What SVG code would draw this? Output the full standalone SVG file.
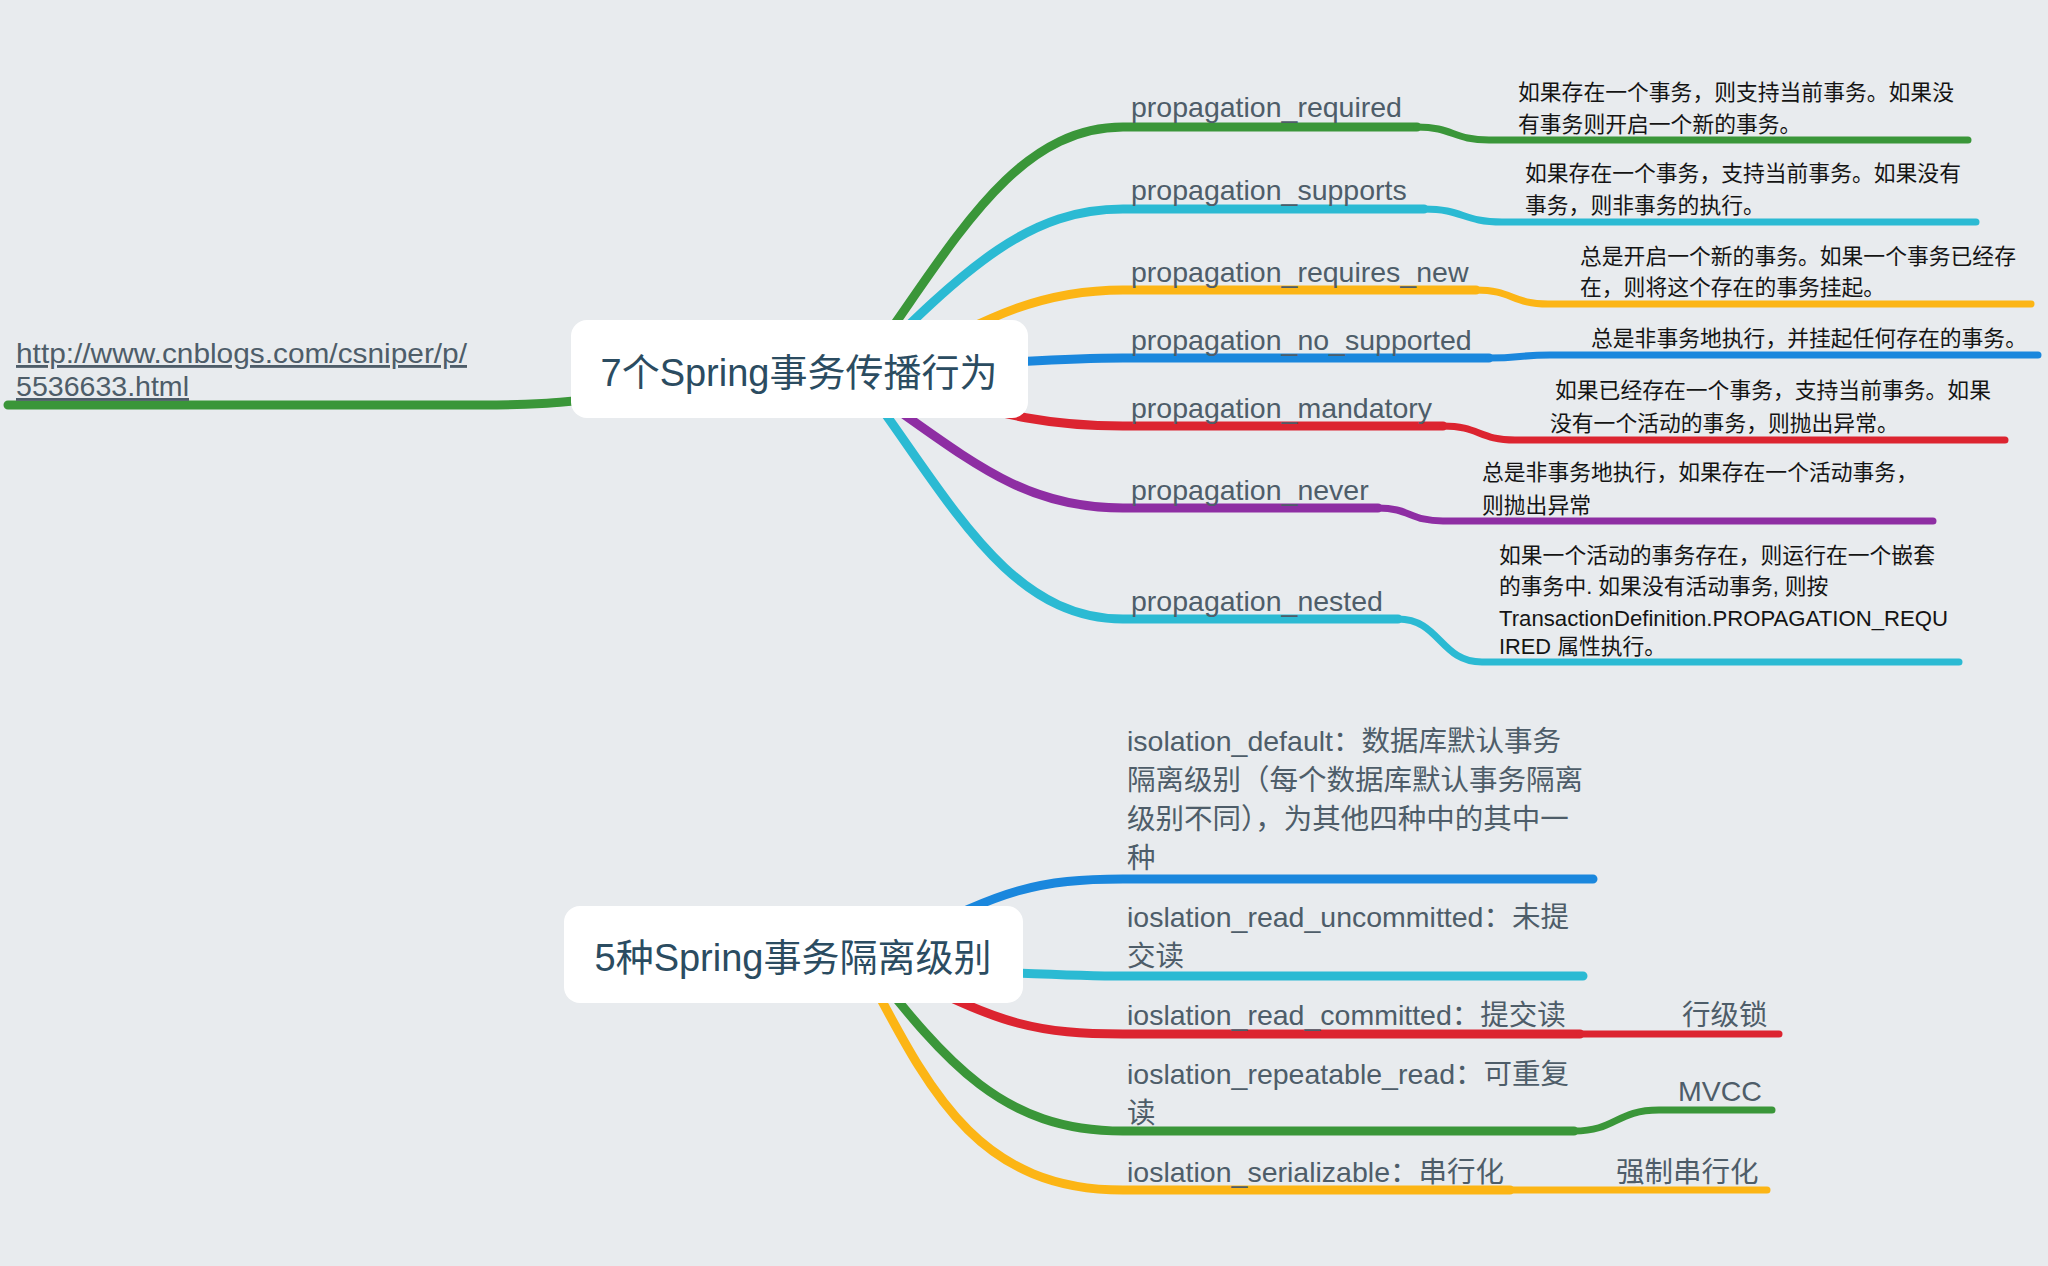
<svg xmlns="http://www.w3.org/2000/svg" width="2048" height="1266" viewBox="0 0 2048 1266">
<style>
.c{fill:none;stroke-linecap:round;stroke-linejoin:round}
.w1{stroke-width:9}
.w2{stroke-width:7}
.t{font-family:"Liberation Sans","Noto Sans CJK SC",sans-serif}
.lbl{font-size:28.5px;fill:#4e5d69}
.desc{font-size:21.8px;fill:#141414}
.topic{font-size:38px;fill:#2b4c61;text-anchor:middle}
.box{fill:#ffffff}
.green{stroke:#3a9639}
.cyan{stroke:#2bbad3}
.yellow{stroke:#fcb515}
.blue{stroke:#1a87dd}
.red{stroke:#dc2430}
.purple{stroke:#8e2ea3}
</style>
<rect x="0" y="0" width="2048" height="1266" fill="#e8ebee"/>
<g id="connectors">
  <path class="c w1 green" d="M680,392 C560,402 545,405 483,405 L8,405"/>
  <path class="c w1 green" d="M855,379 C945,261 1006,127 1123,127 L1417,127"/>
  <path class="c w2 green" d="M1417,127 C1453,127 1453,140 1489,140 L1968,140"/>
  <path class="c w1 cyan" d="M855,379 C970,261 1032,209 1123,209 L1424,209"/>
  <path class="c w2 cyan" d="M1424,209 C1463,209 1463,222 1502,222 L1976,222"/>
  <path class="c w1 yellow" d="M888,370 C993,313 1045,290 1123,290 L1476,290"/>
  <path class="c w2 yellow" d="M1476,290 C1512,290 1512,304 1548,304 L2031,304"/>
  <path class="c w1 blue" d="M940,366 C1032,362 1058,358 1123,358 L1489,358"/>
  <path class="c w2 blue" d="M1489,358 C1520,358 1520,355 1550,355 L2038,355"/>
  <path class="c w1 red" d="M888,385 C1006,415 1045,426 1123,426 L1443,426"/>
  <path class="c w2 red" d="M1443,426 C1479,426 1479,440 1515,440 L2005,440"/>
  <path class="c w1 purple" d="M862,385 C967,457 1019,508 1123,508 L1378,508"/>
  <path class="c w2 purple" d="M1378,508 C1410,508 1410,521 1443,521 L1933,521"/>
  <path class="c w1 cyan" d="M860,379 C948,496 1006,619 1123,619 L1398,619"/>
  <path class="c w2 cyan" d="M1398,619 C1440,619 1440,662 1482,662 L1959,662"/>

  <path class="c w1 blue" d="M905,940 C1000,890 1040,879 1123,879 L1593,879"/>
  <path class="c w1 cyan" d="M950,970 C1040,974 1080,976 1123,976 L1583,976"/>
  <path class="c w1 red" d="M905,975 C1000,1025 1040,1034 1123,1034 L1580,1034"/>
  <path class="c w2 red" d="M1580,1034 L1779,1034"/>
  <path class="c w1 green" d="M865,960 C945,1060 1000,1131 1123,1131 L1574,1131"/>
  <path class="c w2 green" d="M1574,1131 C1616,1131 1616,1110 1659,1110 L1772,1110"/>
  <path class="c w1 yellow" d="M860,960 C925,1080 970,1190 1123,1190 L1510,1190"/>
  <path class="c w2 yellow" d="M1510,1190 L1767,1190"/>
</g>
<g id="link">
  <text class="t lbl" x="16" y="363" text-decoration="underline" fill="#4a5866" textLength="451" lengthAdjust="spacingAndGlyphs">http://www.cnblogs.com/csniper/p/</text>
  <text class="t lbl" x="16" y="396" text-decoration="underline" fill="#4a5866" textLength="173" lengthAdjust="spacingAndGlyphs">5536633.html</text>
</g>
<g id="topic1">
  <rect class="box" x="571" y="320" width="457" height="98" rx="16"/>
  <text class="t topic" x="799" y="386">7个Spring事务传播行为</text>
</g>
<g id="topic2">
  <rect class="box" x="564" y="906" width="459" height="97" rx="16"/>
  <text class="t topic" x="793" y="971">5种Spring事务隔离级别</text>
</g>
<g id="p-required">
  <text class="t lbl" x="1131" y="117">propagation_required</text>
  <text class="t desc" x="1518" y="100">如果存在一个事务，则支持当前事务。如果没</text>
  <text class="t desc" x="1518" y="132">有事务则开启一个新的事务。</text>
</g>
<g id="p-supports">
  <text class="t lbl" x="1131" y="200">propagation_supports</text>
  <text class="t desc" x="1525" y="181">如果存在一个事务，支持当前事务。如果没有</text>
  <text class="t desc" x="1525" y="213">事务，则非事务的执行。</text>
</g>
<g id="p-requires-new">
  <text class="t lbl" x="1131" y="282">propagation_requires_new</text>
  <text class="t desc" x="1580" y="264">总是开启一个新的事务。如果一个事务已经存</text>
  <text class="t desc" x="1580" y="295">在，则将这个存在的事务挂起。</text>
</g>
<g id="p-no-supported">
  <text class="t lbl" x="1131" y="350">propagation_no_supported</text>
  <text class="t desc" x="1591" y="346">总是非事务地执行，并挂起任何存在的事务。</text>
</g>
<g id="p-mandatory">
  <text class="t lbl" x="1131" y="418">propagation_mandatory</text>
  <text class="t desc" x="1555" y="398">如果已经存在一个事务，支持当前事务。如果</text>
  <text class="t desc" x="1550" y="431">没有一个活动的事务，则抛出异常。</text>
</g>
<g id="p-never">
  <text class="t lbl" x="1131" y="500">propagation_never</text>
  <text class="t desc" x="1482" y="480">总是非事务地执行，如果存在一个活动事务，</text>
  <text class="t desc" x="1482" y="513">则抛出异常</text>
</g>
<g id="p-nested">
  <text class="t lbl" x="1131" y="611">propagation_nested</text>
  <text class="t desc" x="1499" y="563">如果一个活动的事务存在，则运行在一个嵌套</text>
  <text class="t desc" x="1499" y="594">的事务中. 如果没有活动事务, 则按</text>
  <text class="t desc" x="1499" y="626" textLength="449" lengthAdjust="spacingAndGlyphs">TransactionDefinition.PROPAGATION_REQU</text>
  <text class="t desc" x="1499" y="654">IRED 属性执行。</text>
</g>
<g id="i-default">
  <text class="t lbl" x="1127" y="751">isolation_default：数据库默认事务</text>
  <text class="t lbl" x="1127" y="790">隔离级别（每个数据库默认事务隔离</text>
  <text class="t lbl" x="1127" y="829">级别不同），为其他四种中的其中一</text>
  <text class="t lbl" x="1127" y="868">种</text>
</g>
<g id="i-uncommitted">
  <text class="t lbl" x="1127" y="927">ioslation_read_uncommitted：未提</text>
  <text class="t lbl" x="1127" y="966">交读</text>
</g>
<g id="i-committed">
  <text class="t lbl" x="1127" y="1025">ioslation_read_committed：提交读</text>
  <text class="t lbl" x="1682" y="1025">行级锁</text>
</g>
<g id="i-repeatable">
  <text class="t lbl" x="1127" y="1084">ioslation_repeatable_read：可重复</text>
  <text class="t lbl" x="1127" y="1123">读</text>
  <text class="t lbl" x="1678" y="1101">MVCC</text>
</g>
<g id="i-serializable">
  <text class="t lbl" x="1127" y="1182">ioslation_serializable：串行化</text>
  <text class="t lbl" x="1616" y="1182">强制串行化</text>
</g>
</svg>
